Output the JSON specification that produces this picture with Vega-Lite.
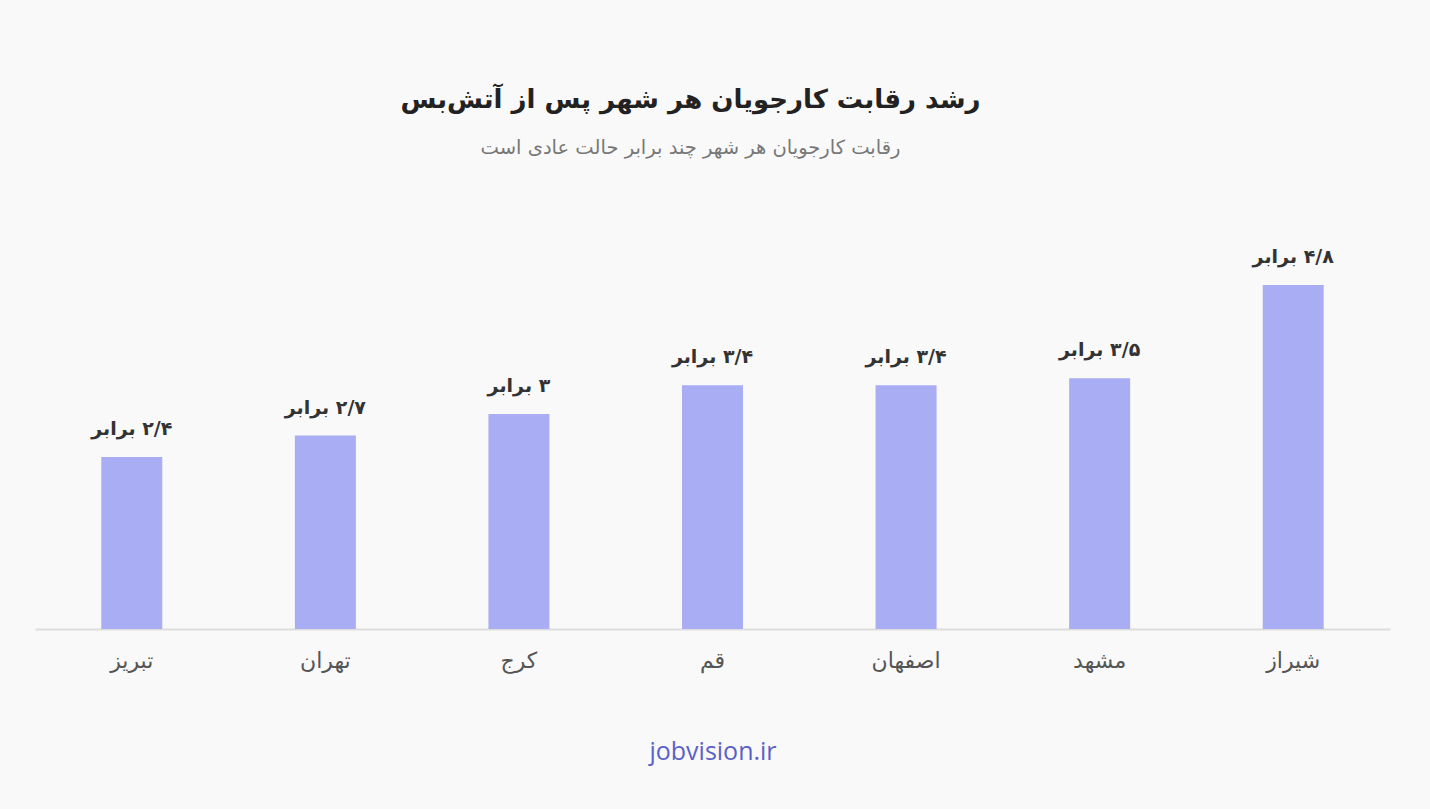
{
  "$schema": "https://vega.github.io/schema/vega-lite/v6.json",
  "autosize": "none",
  "width": 1355,
  "height": 430,
  "padding": {"left": 35, "top": 199, "right": 40, "bottom": 180},
  "background": "#f9f9f9",
  "title": {
    "text": "رشد رقابت کارجویان هر شهر پس از آتش‌بس",
    "subtitle": "رقابت کارجویان هر شهر چند برابر حالت عادی است",
    "anchor": "middle",
    "dx": -22,
    "font": "DejaVu Sans",
    "fontSize": 26,
    "fontWeight": "bold",
    "color": "#222222",
    "subtitleFont": "DejaVu Sans",
    "subtitleFontSize": 19.5,
    "subtitleColor": "#777777",
    "subtitlePadding": 26,
    "offset": 42
  },
  "data": {
    "values": [
      {"city": "تبریز", "value": 2.4, "label": "\u200F۲/۴ برابر"},
      {"city": "تهران", "value": 2.7, "label": "\u200F۲/۷ برابر"},
      {"city": "کرج", "value": 3.0, "label": "\u200F۳ برابر"},
      {"city": "قم", "value": 3.4, "label": "\u200F۳/۴ برابر"},
      {"city": "اصفهان", "value": 3.4, "label": "\u200F۳/۴ برابر"},
      {"city": "مشهد", "value": 3.5, "label": "\u200F۳/۵ برابر"},
      {"city": "شیراز", "value": 4.8, "label": "\u200F۴/۸ برابر"}
    ]
  },
  "encoding": {
    "x": {
      "field": "city",
      "type": "nominal",
      "sort": null,
      "scale": {"paddingInner": 0, "paddingOuter": 0},
      "axis": {
        "title": "jobvision.ir",
        "titleFont": "Open Sans",
        "titleFontSize": 25,
        "titleFontWeight": "normal",
        "titleColor": "#5b60c9",
        "titlePadding": 68,
        "labelAngle": 0,
        "labelFont": "DejaVu Sans",
        "labelFontSize": 22,
        "labelColor": "#555555",
        "labelPadding": 21,
        "ticks": false,
        "domainColor": "#dddddd",
        "domainWidth": 2,
        "grid": false
      }
    },
    "y": {
      "field": "value",
      "type": "quantitative",
      "scale": {"domain": [0, 6]},
      "axis": null
    }
  },
  "layer": [
    {
      "mark": {"type": "bar", "color": "#a9adf4", "width": {"band": 0.315}}
    },
    {
      "mark": {
        "type": "text",
        "dy": -28,
        "font": "DejaVu Sans",
        "fontSize": 19,
        "fontWeight": "bold",
        "color": "#333333"
      },
      "encoding": {"text": {"field": "label"}}
    }
  ],
  "config": {"view": {"stroke": null}}
}
